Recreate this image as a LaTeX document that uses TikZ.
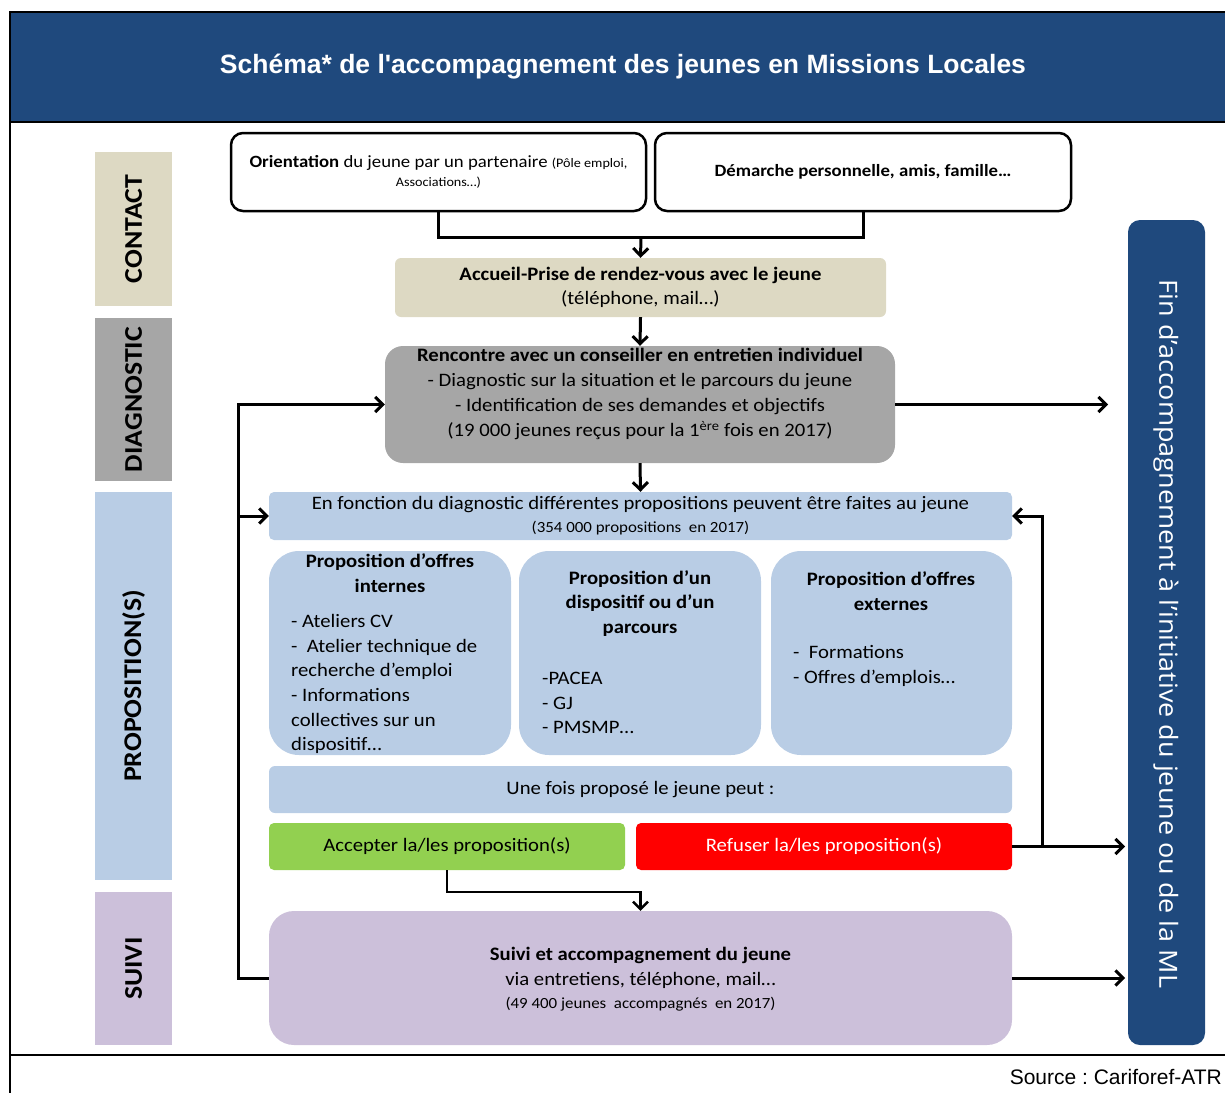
\documentclass[tikz,border=0pt]{standalone}
\usepackage{fontspec}
\setmainfont{Carlito}[FakeStretch=1.09]
\newfontfamily\arialf{Liberation Sans}
\newfontfamily\openf{Open Sans}[FakeStretch=1.08]
\usetikzlibrary{arrows.meta}
\frenchspacing
\definecolor{cBand}{RGB}{31,73,125}
\definecolor{cTan}{RGB}{221,217,195}
\definecolor{cGray}{RGB}{166,166,166}
\definecolor{cBlue}{RGB}{185,205,229}
\definecolor{cLav}{RGB}{204,192,218}
\definecolor{cGreen}{RGB}{146,208,80}
\definecolor{cRed}{RGB}{255,0,0}
\tikzset{
  conn/.style={line width=3pt, -{Straight Barb[length=7.5pt,width=15pt]}},
  plain/.style={line width=3pt},
  cat/.style={rotate=90, inner sep=0pt, minimum height=77pt, font=\bfseries\fontsize{25.5}{28}\selectfont},
  boxx/.style={inner sep=0pt, align=center, font=\fontsize{19}{24.7}\selectfont},
  txt/.style={inner sep=0pt, align=center, font=\fontsize{19}{24.7}\selectfont},
  lst/.style={inner sep=0pt, align=left, anchor=west, font=\fontsize{19}{24.7}\selectfont},
}
\begin{document}
\frenchspacing
\begin{tikzpicture}[x=1pt,y=-1pt]
\useasboundingbox (0,0) rectangle (1225,1092);
% frame and title band
\fill[cBand] (10,12) rectangle (1226,122);
\node[font=\arialf\bfseries\fontsize{26.5}{30}\selectfont, text=white] (title) at (623,67) {Schéma* de l'accompagnement des jeunes en Missions Locales};
\draw[line width=1.5pt] (1226,12) -- (10,12) -- (10,1093);
\draw[line width=2pt] (10,122) -- (1226,122);
\draw[line width=2pt] (10,1055) -- (1226,1055);
% category labels
\node[cat, fill=cTan, minimum width=154pt] (kcontact) at (133.5,229) {CONTACT};
\node[cat, fill=cGray, minimum width=163pt] (kdiag) at (133.5,399.5) {DIAGNOSTIC};
\node[cat, fill=cBlue, minimum width=388pt] (kprop) at (133.5,686) {PROPOSITION(S)};
\node[cat, fill=cLav, minimum width=153pt] (ksuivi) at (133.5,968.5) {SUIVI};
% top boxes
\node[boxx, draw, line width=2.5pt, rounded corners=12pt, minimum width=415pt, minimum height=78pt, font=\fontsize{17.2}{19}\selectfont] (orient) at (438.5,172)
 {\textbf{Orientation} du jeune par un partenaire {\fontsize{13}{15}\selectfont (Pôle emploi,}\\{\fontsize{13}{15}\selectfont Associations…)}};
\node[boxx, draw, line width=2.5pt, rounded corners=12pt, minimum width=416pt, minimum height=78pt, font=\bfseries\fontsize{17.2}{19}\selectfont] (demar) at (863,172)
 {Démarche personnelle, amis, famille…};
% accueil
\node[boxx, fill=cTan, rounded corners=6pt, minimum width=491pt, minimum height=59pt, font=\fontsize{19}{24}\selectfont] (accueil) at (640.5,287.5)
 {\textbf{Accueil-Prise de rendez-vous avec le jeune}\\(téléphone, mail…)};
% rencontre
\node[boxx, fill=cGray, rounded corners=18pt, minimum width=510pt, minimum height=117pt] (renc) at (640,404.5) {};
\node[txt, font=\fontsize{19}{25}\selectfont] (rencT) at (640,394)
 {\textbf{Rencontre avec un conseiller en entretien individuel}\\- Diagnostic sur la situation et le parcours du jeune\\- Identification de ses demandes et objectifs\\(19 000 jeunes reçus pour la 1\textsuperscript{ère} fois en 2017)};
% proposition bar
\node[boxx, fill=cBlue, rounded corners=5pt, minimum width=743pt, minimum height=48pt, font=\fontsize{19}{23}\selectfont] (propbar) at (640.5,516)
 {En fonction du diagnostic différentes propositions peuvent être faites au jeune\\{\fontsize{15.5}{17}\selectfont (354 000 propositions~ en 2017)}};
% three boxes
\node[boxx, fill=cBlue, rounded corners=30pt, minimum width=242pt, minimum height=204pt] (bint) at (390,653) {};
\node[boxx, fill=cBlue, rounded corners=30pt, minimum width=242pt, minimum height=204pt] (bdisp) at (640,653) {};
\node[boxx, fill=cBlue, rounded corners=30pt, minimum width=241pt, minimum height=204pt] (bext) at (891.5,653) {};
\node[txt, font=\bfseries\fontsize{19}{24.7}\selectfont] (bintT) at (390,573) {Proposition d’offres\\internes};
\node[lst] (bintL) at (291,684) {- Ateliers CV\\-~ Atelier technique de\\recherche d’emploi\\- Informations\\collectives sur un\\dispositif…};
\node[txt, font=\bfseries\fontsize{19}{24.7}\selectfont] (bdispT) at (640,603.5) {Proposition d’un\\dispositif ou d’un\\parcours};
\node[lst] (bdispL) at (542,703) {-PACEA\\- GJ\\- PMSMP…};
\node[txt, font=\bfseries\fontsize{19}{24.7}\selectfont] (bextT) at (891,591) {Proposition d’offres\\externes};
\node[lst] (bextL) at (793,666) {-~ Formations\\- Offres d’emplois…};
% une fois
\node[boxx, fill=cBlue, rounded corners=6pt, minimum width=743pt, minimum height=47pt] (unefois) at (640.5,789.5) {Une fois proposé le jeune peut :};
\node[boxx, fill=cGreen, rounded corners=5pt, minimum width=356pt, minimum height=47pt] (accept) at (447,846.5) {Accepter la/les proposition(s)};
\node[boxx, fill=cRed, rounded corners=5pt, minimum width=376pt, minimum height=47pt, text=white] (refus) at (824,846.5) {Refuser la/les proposition(s)};
% suivi
\node[boxx, fill=cLav, rounded corners=25pt, minimum width=743pt, minimum height=134pt] (suivi) at (640.5,978) {};
\node[txt] (suiviT) at (640.5,979)
 {\textbf{Suivi et accompagnement du jeune}\\via entretiens, téléphone, mail…\\[-2pt]{\fontsize{15.5}{17}\selectfont (49 400 jeunes~ accompagnés~ en 2017)}};
% right box
\node[boxx, fill=cBand, rounded corners=12pt, minimum width=77pt, minimum height=825pt] (fin) at (1166.5,632.5) {};
\node[rotate=-90, inner sep=0pt, font=\openf\fontsize{25}{30}\selectfont, text=white] (finT) at (1166,634) {Fin d’accompagnement à l’initiative du jeune ou de la ML};
% source
\node[anchor=east, inner sep=0pt, font=\arialf\fontsize{21}{24}\selectfont] (src) at (1222,1077) {Source : Cariforef-ATR};
% connectors
\coordinate (mrg) at (641,237);
\coordinate (endA) at (1108,404.5);
\coordinate (endB) at (1125,846.5);
\coordinate (endC) at (1125,978);
\coordinate (lbr) at (239,516);
\coordinate (rbr) at (1042,846.5);
\draw[plain] (orient.south) |- (mrg) -| (demar.south);
\draw[conn] (mrg) -- (accueil.north);
\draw[conn] (accueil.south) -- (renc.north);
\draw[conn] (renc.south) -- (propbar.north);
\draw[conn] (suivi.west) -- ++(-30,0) |- (renc.west);
\draw[conn] (lbr) -- (propbar.west);
\draw[conn] (renc.east) -- (endA);
\draw[conn] (refus.east) -- (endB);
\draw[conn] (rbr) |- (propbar.east);
\draw[conn] (suivi.east) -- (endC);
\draw[conn, line width=2.4pt] (accept.south) -- ++(0,22) -| (suivi.north);
\end{tikzpicture}
\end{document}
